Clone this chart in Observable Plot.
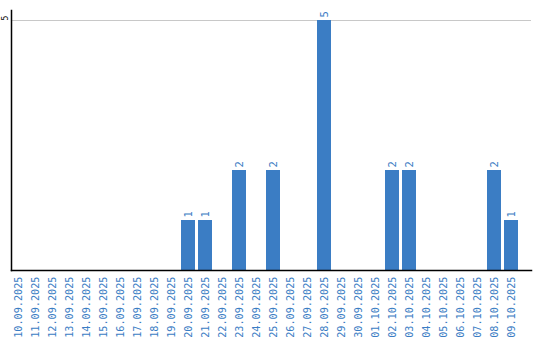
<!DOCTYPE html>
<html>
<head>
<meta charset="utf-8">
<script src="https://cdn.jsdelivr.net/npm/d3@7"></script>
<script src="https://cdn.jsdelivr.net/npm/@observablehq/plot@0.6"></script>
<style>
  html, body { margin: 0; padding: 0; background: #fff; }
  svg { display: block; }
</style>
</head>
<body>
<div id="chart"></div>
<script>
const dates = [
  "10.09.2025","11.09.2025","12.09.2025","13.09.2025","14.09.2025","15.09.2025",
  "16.09.2025","17.09.2025","18.09.2025","19.09.2025","20.09.2025","21.09.2025",
  "22.09.2025","23.09.2025","24.09.2025","25.09.2025","26.09.2025","27.09.2025",
  "28.09.2025","29.09.2025","30.09.2025","01.10.2025","02.10.2025","03.10.2025",
  "04.10.2025","05.10.2025","06.10.2025","07.10.2025","08.10.2025","09.10.2025"
];
const counts = [
  0,0,0,0,0,0,
  0,0,0,0,1,1,
  0,2,0,2,0,0,
  5,0,0,0,2,2,
  0,0,0,0,2,1
];
const yTicks = [5];

const data = dates.map((d, i) => ({date: d, count: counts[i]}));
const blue = "#3b7dc4";
const font = "DejaVu Sans Mono";

const chart = Plot.plot({
  width: 540,
  height: 340,
  marginLeft: 11,
  marginRight: 9,
  marginTop: 10,
  marginBottom: 70,
  style: {fontFamily: font, background: "#fff"},
  x: {type: "band", domain: dates, paddingInner: 0.18, paddingOuter: 0.384, align: 0, axis: null},
  y: {domain: [0, 5.2], axis: null},
  marks: [
    Plot.ruleY(yTicks, {stroke: "#c8c8c8", strokeWidth: 1}),
    Plot.barY(data, {x: "date", y: "count", fill: blue, filter: d => d.count > 0}),
    Plot.text(data, {
      x: "date", y: "count", text: d => String(d.count), filter: d => d.count > 0,
      rotate: -90, textAnchor: "start", dy: -3, fill: blue, fontSize: 10.5, fontFamily: font
    }),
    Plot.axisX({
      tickRotate: -90, tickSize: 0, tickPadding: 6, fill: blue,
      fontSize: 10.2, fontFamily: font, label: null
    }),
    Plot.text(yTicks, {
      y: d => d, frameAnchor: "left", dx: -6, rotate: -90, text: d => String(d),
      fill: "#000", fontSize: 8, fontFamily: font
    }),
    Plot.frame({anchor: "left", stroke: "#000", strokeWidth: 1.5}),
    Plot.frame({anchor: "bottom", stroke: "#000", strokeWidth: 1.5})
  ]
});
document.getElementById("chart").appendChild(chart);
</script>
</body>
</html>
